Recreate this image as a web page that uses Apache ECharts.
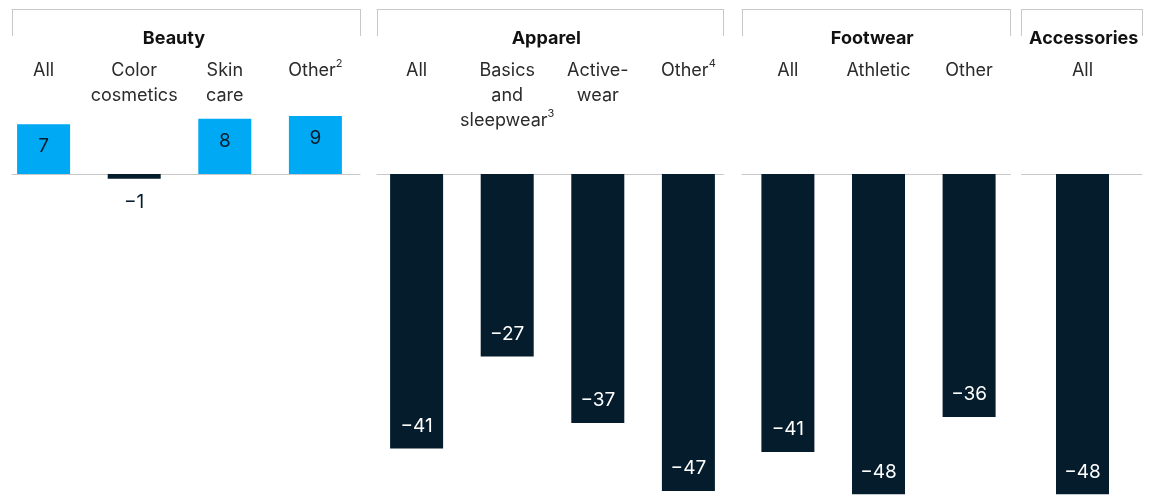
<!DOCTYPE html>
<html>
<head>
<meta charset="utf-8">
<script src="https://cdn.jsdelivr.net/npm/echarts@6/dist/echarts.min.js"></script>
<style>
html,body{margin:0;padding:0;background:#fff;}
#chart{width:1154px;height:495px;}
</style>
</head>
<body>
<div id="chart"></div>
<script>
// ---- Data ----
const groupNames = ['Beauty', 'Apparel', 'Footwear', 'Accessories'];

const beautyCategories = ['All', 'Color\ncosmetics', 'Skin\ncare', 'Other'];
const beautyNotes = ['', '', '', '2'];
const beautyValues = [7.4, -0.7, 8.2, 8.6];

const apparelCategories = ['All', 'Basics\nand\nsleepwear', 'Active-\nwear', 'Other'];
const apparelNotes = ['', '3', '', '4'];
const apparelValues = [-40.8, -27.1, -37.0, -47.1];

const footwearCategories = ['All', 'Athletic', 'Other'];
const footwearNotes = ['', '', ''];
const footwearValues = [-41.3, -47.6, -36.1];

const accessoriesCategories = ['All'];
const accessoriesNotes = [''];
const accessoriesValues = [-47.6];

// ---- Layout (pixels) ----
const groupSpans = [[12, 360], [377, 723.5], [742, 1010.5], [1021.5, 1142]];
const firstBarCenter = [43.6, 416.6, 787.9, 1082.5];
const barStep = 90.6;
const titleShift = [-12, -4, -4, 2];
const zeroY = 174, pxPerUnit = 6.73, yMax = 10, yMin = -50;
const gridTop = zeroY - yMax * pxPerUnit;
const gridHeight = (yMax - yMin) * pxPerUnit;

const POS = '#00a9f4', NEG = '#051c2c', LINE = '#c8c8c8';
const FONT = 'Inter';

const groups = [
  { cats: beautyCategories, notes: beautyNotes, vals: beautyValues },
  { cats: apparelCategories, notes: apparelNotes, vals: apparelValues },
  { cats: footwearCategories, notes: footwearNotes, vals: footwearValues },
  { cats: accessoriesCategories, notes: accessoriesNotes, vals: accessoriesValues }
];

function fmtVal(v) {
  const r = Math.round(v);
  return r < 0 ? '\u2212' + Math.abs(r) : String(r);
}

const grid = [], xAxis = [], yAxis = [], series = [];
groups.forEach((g, i) => {
  const [l, r] = groupSpans[i];
  const min = (l - firstBarCenter[i]) / barStep;
  const max = (r - firstBarCenter[i]) / barStep;
  const idx = g.cats.map((_, k) => k);
  grid.push({ left: l, width: r - l, top: gridTop, height: gridHeight, outerBoundsMode: 'none', containLabel: false });
  yAxis.push({ type: 'value', gridIndex: i, min: yMin, max: yMax, show: false });
  // baseline axis (at zero)
  xAxis.push({
    type: 'value', gridIndex: i, min, max, position: 'bottom',
    axisLine: { show: true, onZero: true, lineStyle: { color: LINE, width: 1 } },
    axisTick: { show: false }, axisLabel: { show: false }, splitLine: { show: false }
  });
  // category label axis
  xAxis.push({
    type: 'value', gridIndex: i, min, max, position: 'top', offset: gridTop - 58.5,
    axisLine: { show: false, onZero: false }, axisTick: { show: false }, splitLine: { show: false },
    axisLabel: {
      show: true, customValues: idx, margin: 0, verticalAlign: 'top', align: 'center',
      fontFamily: FONT, fontSize: 18, color: '#2b2b2b', lineHeight: 25,
      formatter: (v) => {
        const k = Math.round(v);
        return g.cats[k] + (g.notes[k] ? '{sup|' + g.notes[k] + '}' : '');
      },
      rich: { sup: { fontFamily: FONT, fontSize: 11, color: '#2b2b2b', verticalAlign: 'top', lineHeight: 16 } }
    }
  });
  // bracket axis with group title
  xAxis.push({
    type: 'value', gridIndex: i, min, max, position: 'top', offset: gridTop - 9,
    axisLine: { show: true, onZero: false, lineStyle: { color: LINE, width: 1 } },
    axisTick: { show: true, inside: true, length: 27, customValues: [min, max], lineStyle: { color: LINE, width: 1 } },
    axisLabel: { show: false }, splitLine: { show: false },
    name: groupNames[i], nameLocation: 'middle', nameGap: -30,
    nameTextStyle: {
      fontFamily: FONT, fontSize: 18, fontWeight: 'bold', color: '#111', verticalAlign: 'middle',
      padding: titleShift[i] < 0 ? [0, -2 * titleShift[i], 0, 0] : [0, 0, 0, 2 * titleShift[i]]
    }
  });
  series.push({
    type: 'bar', xAxisIndex: 3 * i, yAxisIndex: i, barWidth: 53,
    data: g.vals.map((v, k) => {
      const big = Math.abs(v) >= 3;
      let label;
      if (v >= 0) label = { position: 'insideTop', distance: 13, color: NEG };
      else if (big) label = { position: 'insideBottom', distance: 13, color: '#ffffff' };
      else label = { position: 'bottom', distance: 14, color: NEG };
      return { value: [k, v], itemStyle: { color: v >= 0 ? POS : NEG }, label };
    }),
    label: { show: true, fontFamily: FONT, fontSize: 19, formatter: (p) => fmtVal(p.value[1]) },
    emphasis: { disabled: true }
  });
});

const chart = echarts.init(document.getElementById('chart'), null, { renderer: 'canvas' });
chart.setOption({ animation: false, backgroundColor: '#fff', grid, xAxis, yAxis, series, tooltip: { show: false } });
</script>
</body>
</html>
